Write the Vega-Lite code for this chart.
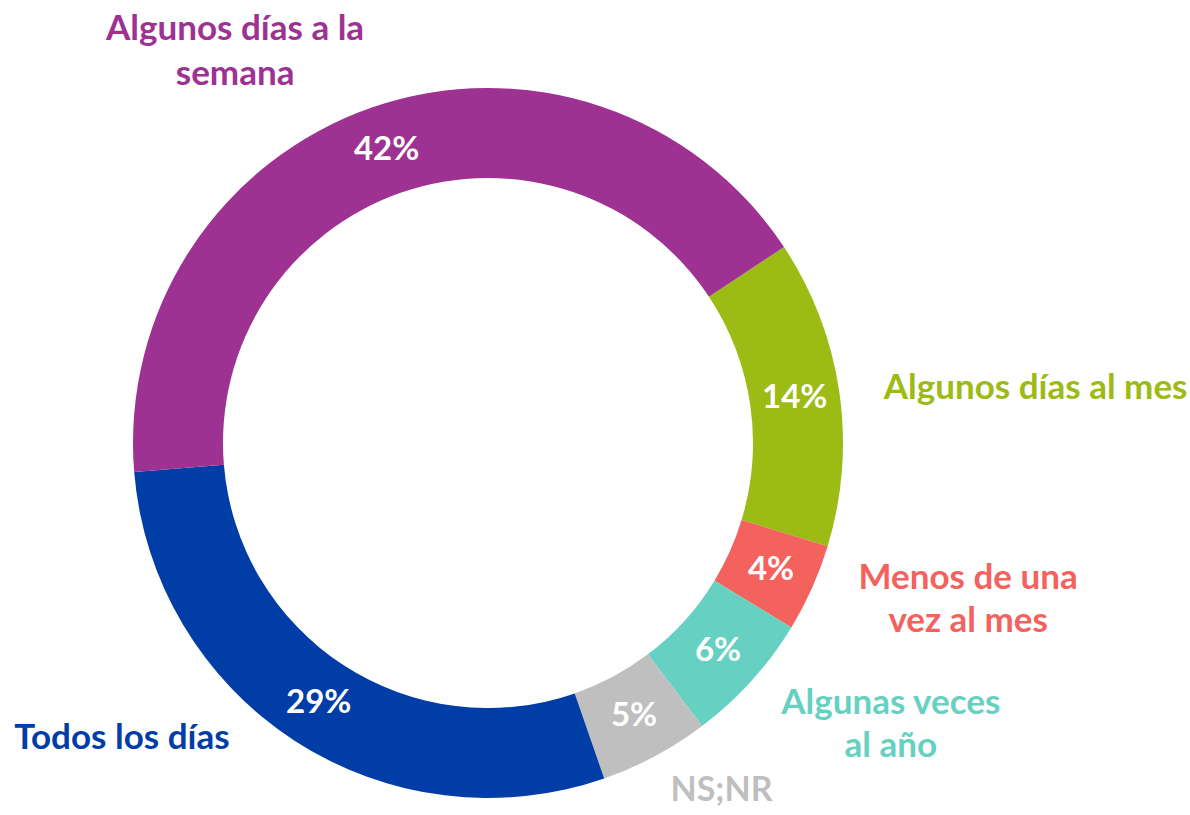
{
  "$schema": "https://vega.github.io/schema/vega-lite/v6.json",
  "width": 976,
  "height": 744,
  "autosize": {"type": "none"},
  "padding": {"left": 0, "top": 71, "right": 214, "bottom": 0},
  "background": "white",
  "view": {"stroke": null},
  "data": {
    "values": [
      {"cat": "Algunos días al mes", "label": ["Algunos días al mes"], "value": 14, "pct": "14%", "ord": 1},
      {"cat": "Menos de una vez al mes", "label": ["Menos de una", "vez al mes"], "value": 4, "pct": "4%", "ord": 2},
      {"cat": "Algunas veces al año", "label": ["Algunas veces", "al año"], "value": 6, "pct": "6%", "ord": 3},
      {"cat": "NS;NR", "label": ["NS;NR"], "value": 5, "pct": "5%", "ord": 4},
      {"cat": "Todos los días", "label": ["Todos los días"], "value": 29, "pct": "29%", "ord": 5},
      {"cat": "Algunos días a la semana", "label": ["Algunos días a la", "semana"], "value": 42, "pct": "42%", "ord": 6}
    ]
  },
  "encoding": {
    "theta": {"field": "value", "type": "quantitative", "stack": true, "scale": {"range": [0.986, 7.2692]}},
    "order": {"field": "ord", "type": "quantitative"},
    "color": {
      "field": "cat", "type": "nominal", "legend": null,
      "scale": {
        "domain": ["Algunos días al mes", "Menos de una vez al mes", "Algunas veces al año", "NS;NR", "Todos los días", "Algunos días a la semana"],
        "range": ["#9CBB14", "#F4625E", "#66D1C1", "#BFBFBF", "#003DA6", "#9D3292"]
      }
    }
  },
  "layer": [
    {"mark": {"type": "arc", "outerRadius": 355, "innerRadius": 265}},
    {
      "mark": {"type": "text", "radius": 310, "font": "Lato", "fontWeight": "bold", "fontSize": 33, "align": "center", "baseline": "middle"},
      "encoding": {"text": {"field": "pct"}, "color": {"value": "white"}}
    },
    {
      "mark": {"type": "text", "radius": 400, "font": "Lato", "fontWeight": "bold", "fontSize": 35, "align": "left", "baseline": "middle", "dy": 3},
      "encoding": {"text": {"condition": {"test": "datum.cat == 'Algunos días al mes'", "field": "label"}, "value": ""}}
    },
    {
      "mark": {"type": "text", "radius": 400, "font": "Lato", "fontWeight": "bold", "fontSize": 34, "align": "left", "baseline": "middle", "dx": -6, "dy": -5},
      "encoding": {"text": {"condition": {"test": "datum.cat == 'NS;NR'", "field": "label"}, "value": ""}}
    },
    {
      "mark": {"type": "text", "radius": 400, "font": "Lato", "fontWeight": "bold", "fontSize": 35, "align": "center", "baseline": "middle", "lineHeight": 43, "dx": 115, "dy": -28},
      "encoding": {"text": {"condition": {"test": "datum.cat == 'Menos de una vez al mes'", "field": "label"}, "value": ""}}
    },
    {
      "mark": {"type": "text", "radius": 400, "font": "Lato", "fontWeight": "bold", "fontSize": 35, "align": "center", "baseline": "middle", "lineHeight": 43, "dx": 106, "dy": -8},
      "encoding": {"text": {"condition": {"test": "datum.cat == 'Algunas veces al año'", "field": "label"}, "value": ""}}
    },
    {
      "mark": {"type": "text", "radius": 400, "font": "Lato", "fontWeight": "bold", "fontSize": 35, "align": "right", "baseline": "middle", "dx": -40, "dy": -40},
      "encoding": {"text": {"condition": {"test": "datum.cat == 'Todos los días'", "field": "label"}, "value": ""}}
    },
    {
      "mark": {"type": "text", "radius": 400, "font": "Lato", "fontWeight": "bold", "fontSize": 35, "align": "center", "baseline": "middle", "lineHeight": 45, "dx": -122, "dy": -36},
      "encoding": {"text": {"condition": {"test": "datum.cat == 'Algunos días a la semana'", "field": "label"}, "value": ""}}
    }
  ]
}
